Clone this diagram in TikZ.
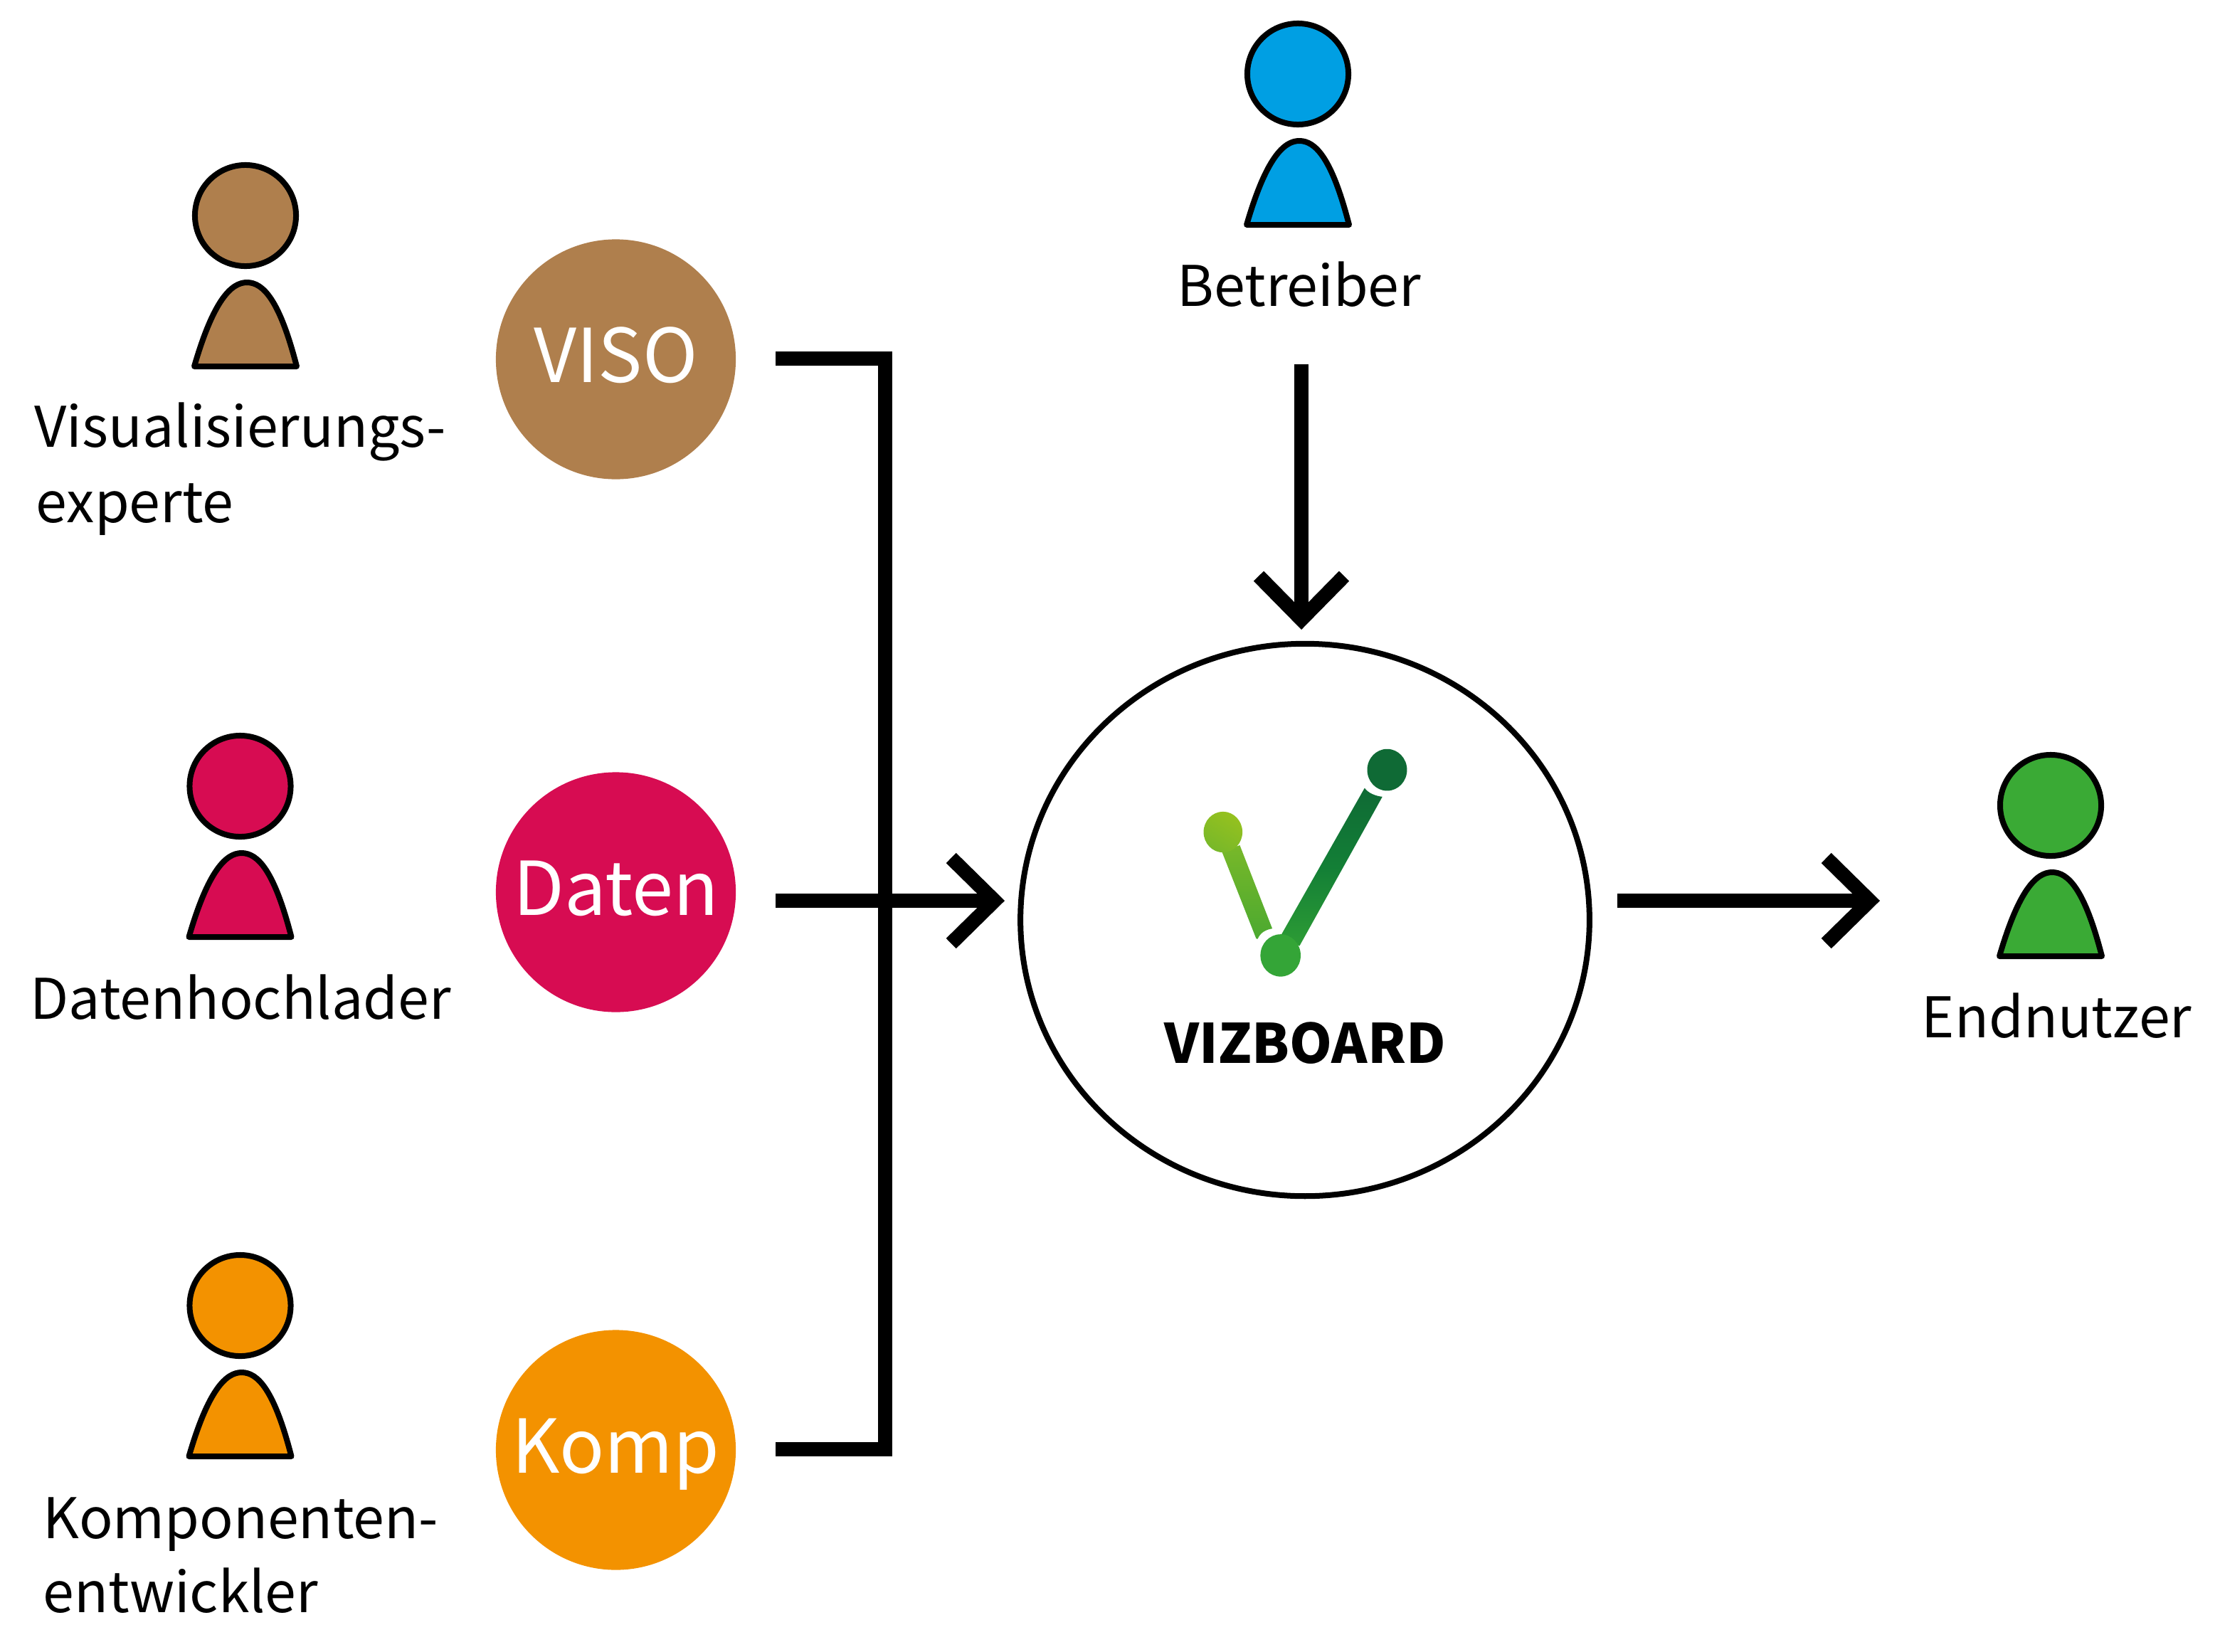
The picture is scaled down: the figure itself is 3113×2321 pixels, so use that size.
\documentclass[tikz,border=0pt]{standalone}
\usepackage{fontspec}
\setmainfont{Noto Sans CJK SC}
\usetikzlibrary{arrows.meta}
\definecolor{cbrown}{HTML}{AF7F4D}
\definecolor{ccrim}{HTML}{D70C52}
\definecolor{corange}{HTML}{F39200}
\definecolor{cblue}{HTML}{009FE3}
\definecolor{cgreen}{HTML}{3AAA35}
\definecolor{gdark}{HTML}{0F6A35}
\definecolor{gmid}{HTML}{137F36}
\definecolor{gbase}{HTML}{2D9C35}
\definecolor{ghead}{HTML}{34A537}
\definecolor{ltop}{HTML}{95C11F}
\definecolor{lmid}{HTML}{78B829}
\definecolor{lbot}{HTML}{4BA930}
\newcommand{\fs}[1]{\fontsize{#1}{#1}\selectfont}
\tikzset{
  x=0.01cm,y=-0.01cm,
  head/.style={circle,draw=black,line width=0.08cm,minimum size=1.42cm,inner sep=0pt},
  body/.style={draw=black,line width=0.08cm,line join=round},
  disc/.style={circle,minimum size=3.37cm,inner sep=0pt,text=white,font=\fs{29.7},text height=0.86cm,text depth=0.22cm},
  lab/.style={inner sep=0pt,anchor=base west,align=left,font=\fs{22.4}},
  conn/.style={line width=0.2cm,draw=black},
  open/.style={-{Straight Barb[sharp,length=0.61cm,width=1.2cm,line width=0.2cm]}},
}
\newcommand{\person}[4]{%
  \node[head,fill=#3] (#4) at (#1,#2+1) {};
  \draw[body,fill=#3] (#1-72,#2+213) .. controls (#1-45,#2+120) and (#1-20,#2+95) .. (#1+2,#2+95)
     .. controls (#1+25,#2+95) and (#1+48,#2+120) .. (#1+72,#2+213) -- cycle;
}
\begin{document}
\begin{tikzpicture}
\useasboundingbox (0,0) rectangle (3113,2321);
\person{345}{302}{cbrown}{p1}
\person{337.5}{1104}{ccrim}{p2}
\person{337.5}{1834}{corange}{p3}
\person{1824}{103}{cblue}{p4}
\person{2882}{1131}{cgreen}{p5}
\node[lab] (l1) at (48,628) {Visualisierungs-};
\node[lab] (l1b) at (50,734) {experte};
\node[lab] (l2) at (42,1432) {Datenhochlader};
\node[lab] (l3) at (60,2162) {Komponenten-};
\node[lab] (l3b) at (60,2266) {entwickler};
\node[lab] (l4) at (1654,430) {Betreiber};
\node[lab] (l5) at (2700,1458) {Endnutzer};
\node[disc,fill=cbrown] (viso) at (865.5,505) {VISO};
\node[disc,fill=ccrim] (daten) at (865.5,1254) {Daten};
\node[disc,fill=corange] (komp) at (865.5,2038) {Komp};
\node[circle,draw=black,line width=0.08cm,minimum size=7.76cm,inner sep=0pt,xscale=1.03] (vb) at (1834,1293) {};
\node[inner sep=0pt,anchor=base,font=\fs{21.7}\bfseries] (vbt) at (1834,1494) {VIZBOARD};
\coordinate (b1) at (1090,504);
\coordinate (b2) at (1244,504);
\coordinate (b3) at (1244,2037);
\coordinate (b4) at (1090,2037);
\coordinate (a1) at (1090,1266);
\coordinate (a2) at (1412,1266);
\coordinate (a3) at (2273,1266);
\coordinate (a4) at (2642,1266);
\coordinate (a5) at (1829,512);
\coordinate (a6) at (1829,885);
\draw[conn] (b1) -- (b2) -- (b3) -- (b4);
\draw[conn,open] (a1) -- (a2);
\draw[conn,open] (a3) -- (a4);
\draw[conn,open] (a5) -- (a6);
% logo
\begin{scope}[shift={(1600,997.5)},x=0.0033333cm,y=-0.00349cm]
\shade[top color=lmid,bottom color=lbot,draw=none]
  (352,570) -- (428,545) -- (565,880) .. controls (535,885) and (515,897) .. (503,922) -- (497,920) -- cycle;
\shade[top color=ltop,bottom color=lmid,shading angle=-30,draw=none] (357,492) circle[radius=82];
\shade[top color=gdark,bottom color=gbase,middle color=gmid,draw=none]
  (955,315) .. controls (970,335) and (1000,347) .. (1030,350) -- (680,950) -- (600,910) -- cycle;
\fill[gdark] (1050,242) circle[radius=84];
\fill[ghead] (600,988) circle[radius=85];
\end{scope}
\end{tikzpicture}
\end{document}
